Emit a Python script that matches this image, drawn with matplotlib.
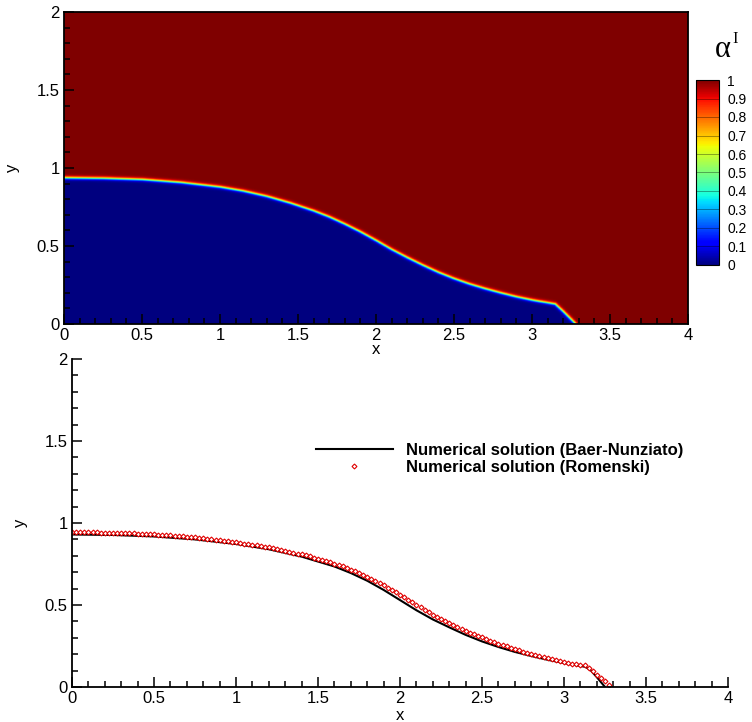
import numpy as np
import matplotlib
matplotlib.use('Agg')
import matplotlib.pyplot as plt
from matplotlib.ticker import MultipleLocator, FormatStrFormatter

plt.rcParams['font.family'] = ['Liberation Sans', 'DejaVu Sans']

# ---------------- data ----------------
# interface (alpha = 0.5)
iface_x = [0.0, 0.25, 0.5, 0.75, 1.0, 1.15, 1.3, 1.45, 1.6, 1.7, 1.8, 1.9, 2.0,
           2.1, 2.2, 2.3, 2.4, 2.5, 2.6, 2.7, 2.8, 2.9, 3.0, 3.05, 3.1, 3.15,
           3.2, 3.24, 3.28]
iface_y = [0.937, 0.934, 0.926, 0.907, 0.878, 0.852, 0.818, 0.775, 0.725, 0.686,
           0.640, 0.590, 0.535, 0.477, 0.425, 0.376, 0.330, 0.290, 0.255, 0.225,
           0.198, 0.173, 0.152, 0.143, 0.135, 0.126, 0.08, 0.04, 0.0]

# Baer-Nunziato interface (black line, lower panel)
bn_x = [0.0, 0.25, 0.5, 0.75, 1.0, 1.2, 1.4, 1.6, 1.7, 1.8, 1.9, 2.0, 2.1, 2.2,
        2.3, 2.4, 2.5, 2.6, 2.7, 2.8, 2.9, 3.0, 3.05, 3.1, 3.13, 3.16, 3.2, 3.25]
bn_y = [0.930, 0.927, 0.918, 0.900, 0.872, 0.840, 0.795, 0.735, 0.695, 0.648,
        0.592, 0.530, 0.468, 0.412, 0.364, 0.318, 0.278, 0.244, 0.214, 0.189,
        0.166, 0.146, 0.137, 0.128, 0.123, 0.105, 0.060, 0.0]

# Romenski interface (red diamonds, lower panel), sampled every 0.025 in x
rom_dx = 0.025
rom_y = [0.945, 0.945, 0.945, 0.944, 0.944, 0.943, 0.943, 0.942, 0.942, 0.941,
         0.940, 0.940, 0.939, 0.938, 0.937, 0.936, 0.935, 0.934, 0.933, 0.932,
         0.930,
         0.929, 0.927, 0.926, 0.924, 0.922, 0.920, 0.918, 0.916, 0.914, 0.912,
         0.909, 0.906, 0.903, 0.900, 0.897, 0.894, 0.891, 0.888, 0.885, 0.882,
         0.879, 0.875, 0.872, 0.868, 0.864, 0.860, 0.856, 0.851, 0.846, 0.841,
         0.836, 0.831, 0.826, 0.820, 0.814, 0.808, 0.802, 0.796, 0.789, 0.782,
         0.775, 0.768, 0.760, 0.752, 0.744, 0.735, 0.726, 0.716, 0.706, 0.695,
         0.684, 0.672, 0.660, 0.647, 0.634, 0.620, 0.606, 0.592, 0.578, 0.564,
         0.549, 0.533, 0.517, 0.501, 0.486, 0.471, 0.456, 0.442, 0.428, 0.415,
         0.402, 0.389, 0.377, 0.365, 0.354, 0.343, 0.332, 0.322, 0.312, 0.302,
         0.293, 0.283, 0.274, 0.265, 0.257, 0.248, 0.240, 0.232, 0.224, 0.216,
         0.209, 0.201, 0.194, 0.187, 0.181, 0.174, 0.168, 0.162, 0.156, 0.150,
         0.146, 0.142, 0.139, 0.136, 0.132,
         0.115, 0.095, 0.075, 0.055, 0.035, 0.012]

cbar_ticks = [0, 0.1, 0.2, 0.3, 0.4, 0.5, 0.6, 0.7, 0.8, 0.9, 1]
legend_labels = ['Numerical solution (Baer-Nunziato)',
                 'Numerical solution (Romenski)']

# ---------------- field from the interface ----------------
xg = np.linspace(0, 4, 1001)
yg = np.linspace(0, 2, 501)
X, Y = np.meshgrid(xg, yg)
px = np.array(iface_x)
py = np.array(iface_y)
dist = np.full(X.shape, np.inf)
for i in range(len(px) - 1):
    ax_, ay_ = px[i], py[i]
    bx_, by_ = px[i + 1], py[i + 1]
    vx, vy = bx_ - ax_, by_ - ay_
    t = ((X - ax_) * vx + (Y - ay_) * vy) / (vx * vx + vy * vy)
    t = np.clip(t, 0, 1)
    d = np.hypot(X - (ax_ + t * vx), Y - (ay_ + t * vy))
    dist = np.minimum(dist, d)
ycurve = np.interp(X, px, py, right=-1.0)
sign = np.where(Y >= ycurve, 1.0, -1.0)
alpha = 0.5 * (1 + np.tanh(sign * dist / 0.011))

# ---------------- figure ----------------
W, H = 752, 722
fig = plt.figure(figsize=(W / 100, H / 100), dpi=100)

def style_axis(ax):
    ax.xaxis.set_major_locator(MultipleLocator(0.5))
    ax.xaxis.set_minor_locator(MultipleLocator(0.1))
    ax.yaxis.set_major_locator(MultipleLocator(0.5))
    ax.yaxis.set_minor_locator(MultipleLocator(0.1))
    ax.xaxis.set_major_formatter(FormatStrFormatter('%g'))
    ax.yaxis.set_major_formatter(FormatStrFormatter('%g'))
    ax.tick_params(which='both', direction='in', top=False, right=False,
                   labelsize=12, width=1.1, colors='black')
    ax.tick_params(which='major', length=7, pad=3)
    ax.tick_params(which='minor', length=4)
    for s in ax.spines.values():
        s.set_linewidth(1.3)

# top panel
ax1 = fig.add_axes([64 / W, 1 - 324 / H, 624 / W, 312 / H])
im = ax1.imshow(alpha, origin='lower', extent=[0, 4, 0, 2], cmap='jet',
                vmin=0, vmax=1, aspect='auto', interpolation='bilinear')
ax1.set_xlim(0, 4)
ax1.set_ylim(0, 2)
style_axis(ax1)
ax1.set_xlabel('x', fontsize=12, labelpad=-1)
ax1.set_ylabel('y', fontsize=12, labelpad=12)

cax = fig.add_axes([696 / W, 1 - 265 / H, 23 / W, 185 / H])
cb = fig.colorbar(im, cax=cax, ticks=cbar_ticks)
cb.ax.yaxis.set_major_formatter(FormatStrFormatter('%g'))
cb.ax.tick_params(length=0, labelsize=10, pad=6)
cb.outline.set_linewidth(0.8)
for v in cbar_ticks[1:-1]:
    cax.axhline(v, color='black', lw=0.7, alpha=0.35)
fig.text(723 / W, 1 - 57 / H, 'α', fontsize=22, family='Liberation Serif',
         ha='center', va='baseline')
fig.text(735 / W, 1 - 43 / H, 'I', fontsize=12, family='Liberation Serif',
         ha='center', va='baseline')

# bottom panel
ax2 = fig.add_axes([72 / W, 1 - 687 / H, 656 / W, 328 / H])
ax2.plot(bn_x, bn_y, color='black', lw=1.5, label=legend_labels[0])
rom_x = np.arange(len(rom_y)) * rom_dx
ax2.plot(rom_x, rom_y, linestyle='none', marker='D', markersize=2.5,
         markerfacecolor='white', markeredgecolor='#e00000',
         markeredgewidth=0.8, label=legend_labels[1])
ax2.set_xlim(0, 4)
ax2.set_ylim(0, 2)
ax2.spines['top'].set_visible(False)
ax2.spines['right'].set_visible(False)
style_axis(ax2)
ax2.set_xlabel('x', fontsize=12, labelpad=1)
ax2.set_ylabel('y', fontsize=12, labelpad=12)
leg = ax2.legend(loc='upper left', bbox_to_anchor=(316 / W, 1 - 443 / H),
                 bbox_transform=fig.transFigure, frameon=False,
                 prop={'weight': 'bold', 'size': 12}, handlelength=4.6,
                 handletextpad=0.8, labelspacing=0.1, borderpad=0,
                 borderaxespad=0, markerscale=1.0)

fig.savefig('out.png', dpi=100)
